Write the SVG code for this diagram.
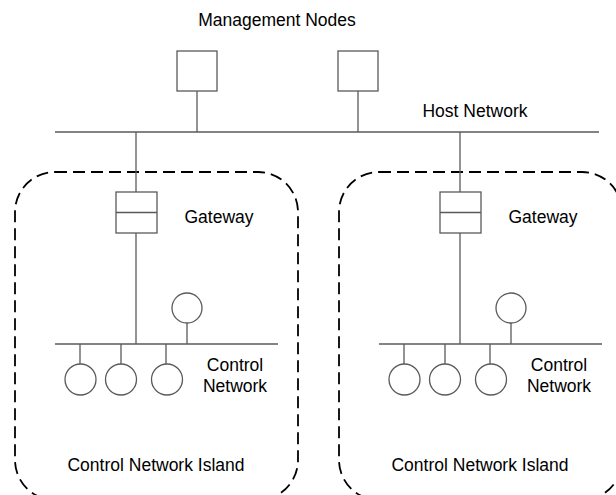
<svg xmlns="http://www.w3.org/2000/svg" width="616" height="495" viewBox="0 0 616 495">
<style>
.ln{stroke:#5a5a5a;stroke-width:1.3;fill:none}
.box{stroke:#5a5a5a;stroke-width:1.3;fill:#fff}
.isl{stroke:#000;stroke-width:1.8;fill:none;stroke-dasharray:12 6}
text{font-family:"Liberation Sans",Arial,sans-serif;font-size:17.5px;fill:#000}
</style>
<rect width="616" height="495" fill="#fff"/>
<g id="island-left"><rect class="isl" x="15" y="172" width="283" height="328" rx="40" ry="40"/><text x="156" y="471" text-anchor="middle">Control Network Island</text></g>
<g id="island-right"><rect class="isl" x="339" y="172" width="283" height="328" rx="40" ry="40"/><text x="480" y="471" text-anchor="middle">Control Network Island</text></g>
<g id="connectors">
<line class="ln" x1="55" y1="132" x2="599" y2="132"/>
<line class="ln" x1="197" y1="91" x2="197" y2="132"/>
<line class="ln" x1="358" y1="91" x2="358" y2="132"/>
<line class="ln" x1="136" y1="132" x2="136" y2="192"/>
<line class="ln" x1="460" y1="132" x2="460" y2="192"/>
<line class="ln" x1="136" y1="233" x2="136" y2="344"/>
<line class="ln" x1="460" y1="233" x2="460" y2="344"/>
<line class="ln" x1="55" y1="344" x2="278" y2="344"/>
<line class="ln" x1="379" y1="344" x2="602" y2="344"/>
<line class="ln" x1="187" y1="323" x2="187" y2="344"/>
<line class="ln" x1="80" y1="344" x2="80" y2="364"/>
<line class="ln" x1="121" y1="344" x2="121" y2="364"/>
<line class="ln" x1="166" y1="344" x2="166" y2="364"/>
<line class="ln" x1="511" y1="323" x2="511" y2="344"/>
<line class="ln" x1="404" y1="344" x2="404" y2="364"/>
<line class="ln" x1="445" y1="344" x2="445" y2="364"/>
<line class="ln" x1="490" y1="344" x2="490" y2="364"/>
</g>
<g id="label-mgmt"><text x="277" y="26" text-anchor="middle">Management Nodes</text></g>
<g id="label-host"><text x="475" y="117" text-anchor="middle">Host Network</text></g>
<g id="mgmt1"><rect class="box" x="177" y="51" width="40" height="40"/></g>
<g id="mgmt2"><rect class="box" x="338" y="51" width="40" height="40"/></g>
<g id="gateway-left"><rect class="box" x="116" y="192" width="41" height="41"/><line class="ln" x1="116" y1="212.5" x2="157" y2="212.5"/><text x="219" y="223" text-anchor="middle">Gateway</text></g>
<g id="gateway-right"><rect class="box" x="440" y="192" width="41" height="41"/><line class="ln" x1="440" y1="212.5" x2="481" y2="212.5"/><text x="543" y="223" text-anchor="middle">Gateway</text></g>
<g id="net-left"><text x="235" y="371" text-anchor="middle">Control</text><text x="235" y="392" text-anchor="middle">Network</text></g>
<g id="net-right"><text x="559" y="371" text-anchor="middle">Control</text><text x="559" y="392" text-anchor="middle">Network</text></g>
<g id="node-l0"><circle class="box" cx="187" cy="308" r="15"/></g>
<g id="node-l1"><circle class="box" cx="80.5" cy="379.5" r="15.5"/></g>
<g id="node-l2"><circle class="box" cx="121" cy="379.5" r="15.5"/></g>
<g id="node-l3"><circle class="box" cx="167" cy="379.5" r="15.5"/></g>
<g id="node-r0"><circle class="box" cx="511" cy="308" r="15"/></g>
<g id="node-r1"><circle class="box" cx="404.5" cy="379.5" r="15.5"/></g>
<g id="node-r2"><circle class="box" cx="445" cy="379.5" r="15.5"/></g>
<g id="node-r3"><circle class="box" cx="491" cy="379.5" r="15.5"/></g>
</svg>
